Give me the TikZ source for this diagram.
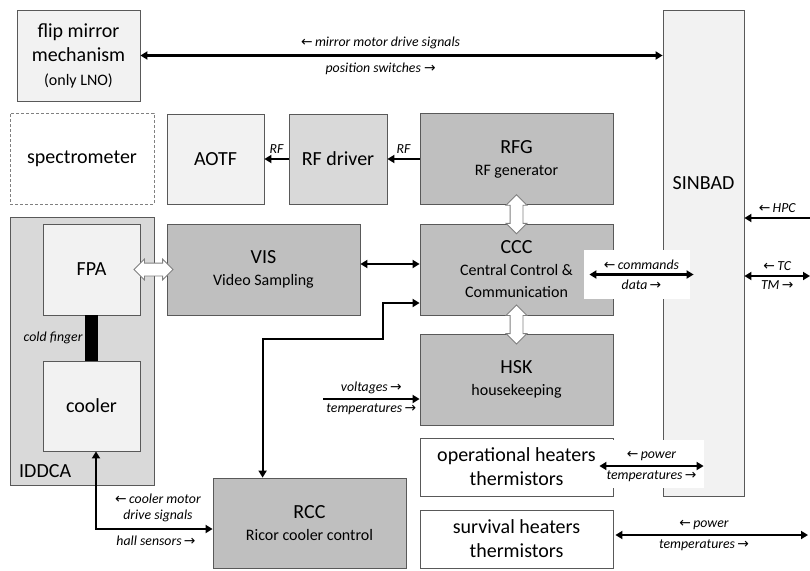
\documentclass[tikz,border=0pt]{standalone}
\usepackage{fontspec}
\setmainfont{Carlito}
\newfontfamily\arrowfont{DejaVu Sans}
\usetikzlibrary{arrows.meta,shapes.arrows,calc}
\definecolor{boxlight}{HTML}{F2F2F2}
\definecolor{boxmid}{HTML}{D9D9D9}
\definecolor{boxdark}{HTML}{BFBFBF}
\definecolor{edgegray}{HTML}{595959}
\newcommand{\lar}{{\arrowfont\char"2190}}
\newcommand{\rar}{{\arrowfont\char"2192}}
\newcommand{\subt}[1]{{\fontsize{16}{19}\selectfont #1}}

\begin{document}
\begin{tikzpicture}[x=1pt, y=-1pt,
  blk/.style={draw=edgegray, line width=0.8pt, inner sep=0pt, align=center, font=\fontsize{20}{24}\selectfont},
  light/.style={blk, fill=boxlight},
  mid/.style={blk, fill=boxmid},
  dark/.style={blk, fill=boxdark, minimum width=193pt, minimum height=91pt, font=\fontsize{20}{22}\selectfont},
  sig/.style={line width=2.2pt, -{Triangle[length=7pt,width=8pt]}},
  bisig/.style={line width=2.2pt, {Triangle[length=7pt,width=8pt]}-{Triangle[length=7pt,width=8pt]}},
  lab/.style={font=\fontsize{13.8}{16.5}\selectfont\itshape, inner sep=1pt},
  fat/.style={shape=double arrow, draw=gray, fill=white, line width=0.8pt, minimum height=39pt, double arrow head extend=4pt, double arrow head indent=0pt, inner xsep=0pt, inner ysep=6pt}]
  \useasboundingbox (0,0) rectangle (810,570);

  % top row
  \node[light, minimum width=123pt, minimum height=91pt] (flip) at (78.5,55.5) {flip mirror\\mechanism\\\subt{(only LNO)}};
  \node[light, minimum width=81pt, minimum height=486pt] (sinbad) at (703.5,253) {};
  \node[font=\fontsize{20}{24}\selectfont] (sinbadname) at (703.5,183) {SINBAD};
  \node[blk, draw=gray, dash pattern=on 3pt off 2pt, minimum width=144pt, minimum height=91pt] (spec) at (82,158.5) {spectrometer};
  \node[light, minimum width=97pt, minimum height=90pt] (aotf) at (215.5,159) {AOTF};
  \node[mid, minimum width=98pt, minimum height=90pt] (rfdrv) at (338,159) {RF driver};
  \node[dark] (rfg) at (516.5,159) {RFG\\\subt{RF generator}};

  % detector assembly
  \node[mid, minimum width=144pt, minimum height=268pt] (iddca) at (82,351) {};
  \node[anchor=base west, font=\fontsize{20}{24}\selectfont, inner sep=0pt] (iddcaname) at (19,477) {IDDCA};
  \node[light, minimum width=97pt, minimum height=91pt] (fpa) at (91.5,269.5) {FPA};
  \node[light, minimum width=97pt, minimum height=90pt] (cooler) at (91.5,406) {cooler};
  \node[fill=black, inner sep=0pt, minimum width=13pt, minimum height=46pt] (finger) at (91.5,338) {};
  \node[lab, anchor=east] (fingerlab) at ([xshift=-1pt]finger.west) {cold finger};

  % electronics
  \node[dark] (vis) at (263.5,269.5) {VIS\\\subt{Video Sampling}};
  \node[dark] (ccc) at (516.5,269.5) {CCC\\\subt{Central Control \&}\\\subt{Communication}};
  \node[dark] (hsk) at (516.5,379.5) {HSK\\\subt{housekeeping}};
  \node[blk, fill=white, minimum width=193pt, minimum height=58pt] (opheat) at (516.5,467) {operational heaters\\thermistors};
  \node[blk, fill=white, minimum width=193pt, minimum height=58pt] (surv) at (516.5,539) {survival heaters\\thermistors};
  \node[dark, minimum height=90pt] (rcc) at (309.5,523) {RCC\\\subt{Ricor cooler control}};

  % block arrows
  \node[fat] (fpavis) at ($(fpa.east)!0.5!(vis.west)$) {};
  \node[fat, rotate=90] (rfgccc) at ($(rfg.south)!0.5!(ccc.north)$) {};
  \node[fat, rotate=90] (ccchsk) at ($(ccc.south)!0.5!(hsk.north)$) {};

  % signals
  \draw[bisig] (flip.east) -- (flip.east -| sinbad.west)
    node[lab, pos=0.46, above=5pt] (mirrorlab) {\lar\,mirror motor drive signals}
    node[lab, pos=0.46, below=5pt] (switchlab) {position switches \rar};
  \draw[sig] (rfdrv) -- (aotf) node[lab, midway, above=3pt] (rfa) {RF};
  \draw[sig] (rfg) -- (rfdrv) node[lab, midway, above=3pt] (rfb) {RF};
  \draw[bisig] ([yshift=5.5pt]vis.east) -- ([yshift=5.5pt]ccc.west);

  \coordinate (rccbend) at (383,339);
  \draw[bisig] ([xshift=50pt]rcc.north west) |- (rccbend) |- ([yshift=-33.5pt]ccc.west);

  \coordinate (hskin) at (323,399);
  \draw[sig] (hskin) -- (hskin -| hsk.west)
    node[lab, midway, above=3pt] (voltlab) {voltages\,\rar}
    node[lab, midway, below=3pt] (templab) {temperatures\,\rar};

  \node[fill=white, inner sep=0pt, minimum width=106pt, minimum height=49pt] (cmdbox) at (637,274.5) {};
  \draw[bisig] ([xshift=-24pt]ccc.east |- cmdbox) -- ([xshift=31pt]sinbad.west |- cmdbox)
    node[lab, midway, above=3pt] (cmdlab) {\lar\,commands}
    node[lab, midway, below=3pt] (datalab) {data\,\rar};

  \coordinate (hpcin) at (810,218);
  \draw[sig] (hpcin) -- (hpcin -| sinbad.east) node[lab, midway, above=3pt] (hpclab) {\lar\,HPC};
  \coordinate (tcout) at (810,276);
  \draw[bisig] (tcout -| sinbad.east) -- (tcout)
    node[lab, midway, above=3pt] (tclab) {\lar\,TC}
    node[lab, midway, below=3pt] (tmlab) {TM\,\rar};

  \node[fill=white, inner sep=0pt, minimum width=102pt, minimum height=48pt] (pwrbox) at (653,464) {};
  \draw[bisig] ([xshift=-14pt,yshift=1pt]opheat.east) -- ([xshift=41pt,yshift=1pt]sinbad.west |- opheat.east)
    node[lab, midway, above=3pt] (pwrlab) {\lar\,power}
    node[lab, midway, below=3pt] (optemplab) {temperatures\,\rar};

  \coordinate (survout) at (808,535);
  \draw[bisig] ([xshift=2pt]surv.east |- survout) -- (survout)
    node[lab, pos=0.46, above=3pt] (spwrlab) {\lar\,power}
    node[lab, pos=0.46, below=3pt] (stemplab) {temperatures\,\rar};

  \draw[bisig] ([xshift=4.5pt]cooler.south) |- ([yshift=-6pt]rcc.west);
  \node[lab, align=center] (coollab) at (158,508) {\lar\,cooler motor\\drive signals};
  \node[lab] (halllab) at (156,541) {hall sensors\,\rar};
\end{tikzpicture}
\end{document}
